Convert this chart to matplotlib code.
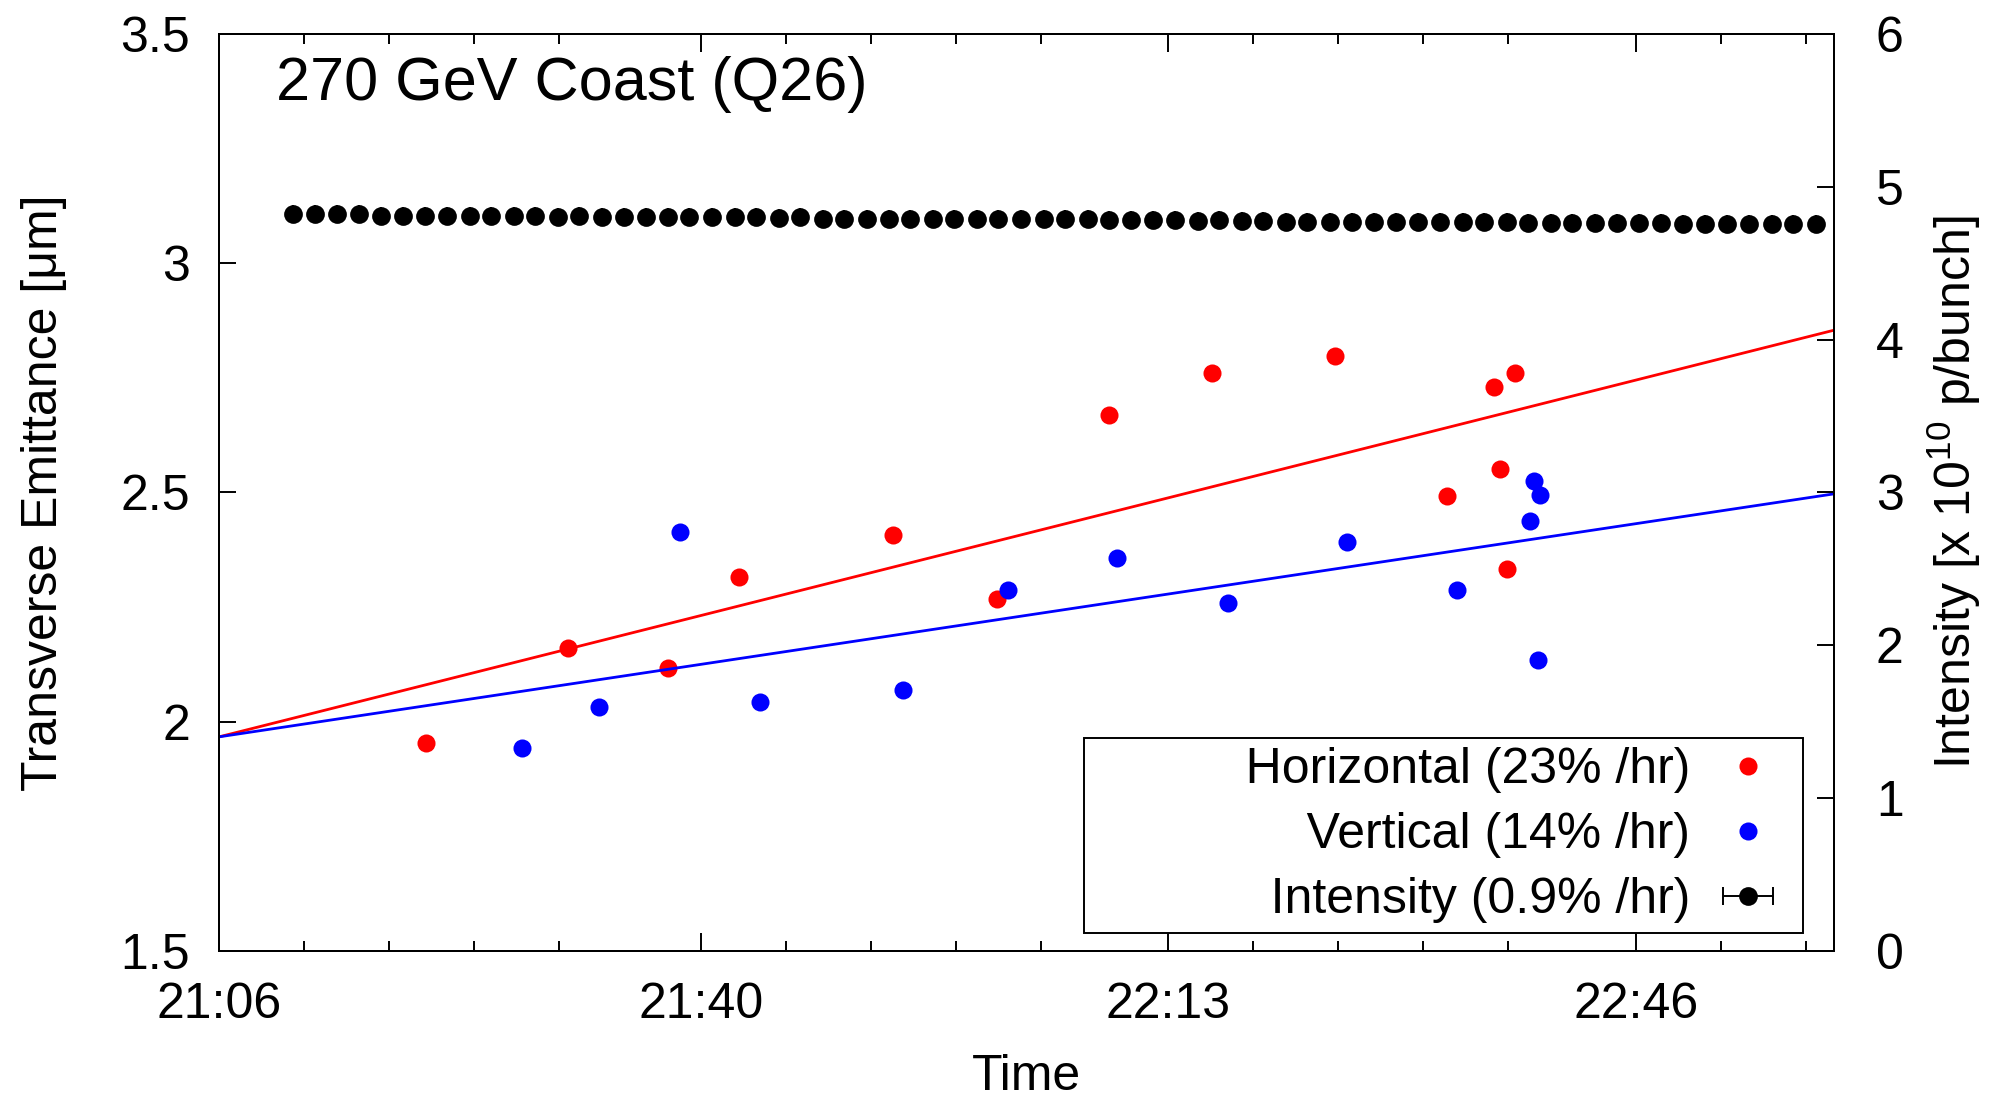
import matplotlib
matplotlib.use("Agg")
import matplotlib.pyplot as plt

# time axis in minutes after 21:06
x_ticks = [0, 34, 67, 100]
x_ticklabels = ["21:06", "21:40", "22:13", "22:46"]
x_minor = [6, 12, 18, 24, 40, 46, 52, 58, 73, 79, 85, 91, 106, 112]

# horizontal emittance (um)
h_t = [14.6, 24.6, 31.7, 36.7, 47.6, 54.9, 62.8, 70.1, 78.8, 86.7, 90.0, 90.4, 90.9, 91.5]
h_eps = [1.953, 2.161, 2.118, 2.316, 2.407, 2.268, 2.668, 2.760, 2.798, 2.493, 2.729, 2.551, 2.334, 2.760]

# vertical emittance (um)
v_t = [21.4, 26.8, 32.5, 38.2, 48.3, 55.7, 63.4, 71.2, 79.6, 87.4, 92.5, 92.8, 93.2, 93.1]
v_eps = [1.943, 2.033, 2.414, 2.043, 2.070, 2.288, 2.357, 2.258, 2.392, 2.288, 2.437, 2.526, 2.495, 2.134]

# growth fits, ends of the window
fit_t = [0, 114]
h_fit = [1.967, 2.854]
v_fit = [1.967, 2.497]

# beam intensity (1e10 p/bunch)
int_t = [5.2, 6.8, 8.3, 9.9, 11.4, 13.0, 14.5, 16.1, 17.7, 19.2,
         20.8, 22.3, 23.9, 25.4, 27.0, 28.6, 30.1, 31.7, 33.2, 34.8,
         36.4, 37.9, 39.5, 41.0, 42.6, 44.1, 45.7, 47.3, 48.8, 50.4,
         51.9, 53.5, 55.0, 56.6, 58.2, 59.7, 61.3, 62.8, 64.4, 65.9,
         67.5, 69.1, 70.6, 72.2, 73.7, 75.3, 76.8, 78.4, 80.0, 81.5,
         83.1, 84.6, 86.2, 87.8, 89.3, 90.9, 92.4, 94.0, 95.5, 97.1,
         98.7, 100.2, 101.8, 103.3, 104.9, 106.4, 108.0, 109.6, 111.1, 112.7]
int_val = [4.822, 4.820, 4.822, 4.820, 4.810, 4.810, 4.808, 4.810, 4.806, 4.808,
           4.806, 4.806, 4.805, 4.806, 4.803, 4.805, 4.803, 4.803, 4.800, 4.802,
           4.800, 4.800, 4.798, 4.800, 4.792, 4.790, 4.792, 4.790, 4.790, 4.788,
           4.790, 4.788, 4.788, 4.786, 4.788, 4.786, 4.786, 4.780, 4.782, 4.780,
           4.780, 4.778, 4.780, 4.778, 4.778, 4.772, 4.772, 4.770, 4.772, 4.770,
           4.770, 4.768, 4.770, 4.768, 4.768, 4.768, 4.766, 4.766, 4.764, 4.766,
           4.764, 4.764, 4.762, 4.758, 4.758, 4.756, 4.756, 4.755, 4.754, 4.754]

legend_labels = ["Horizontal (23% /hr)", "Vertical (14% /hr)", "Intensity (0.9% /hr)"]

plt.rcParams["font.family"] = ["Liberation Sans", "DejaVu Sans"]
plt.rcParams["mathtext.default"] = "regular"
plt.rcParams["axes.linewidth"] = 1.4

fig = plt.figure(figsize=(19.9, 10.99), dpi=100)
ax = fig.add_axes([0.1101, 0.1347, 0.8116, 0.8344])
ax2 = ax.twinx()

h_pts, = ax.plot(h_t, h_eps, "o", color="red", ms=13, mec="none")
ax.plot(fit_t, h_fit, "-", color="red", lw=2)
v_pts, = ax.plot(v_t, v_eps, "o", color="blue", ms=13, mec="none")
ax.plot(fit_t, v_fit, "-", color="blue", lw=2)
i_pts = ax2.errorbar(int_t, int_val, xerr=0, fmt="o", color="black", ms=13.5,
                     mec="none", elinewidth=1.4, capsize=6.5, capthick=1.4)

ax.set_xlim(0, 114)
ax.set_ylim(1.5, 3.5)
ax2.set_ylim(0, 6)
ax.set_xticks(x_ticks)
ax.set_xticklabels(x_ticklabels)
ax.set_xticks(x_minor, minor=True)
ax.set_yticks([1.5, 2, 2.5, 3, 3.5])
ax.set_yticklabels(["1.5", "2", "2.5", "3", "3.5"])
ax2.set_yticks(range(7))

ax.tick_params(axis="x", which="major", direction="in", length=13, width=1.4,
               top=True, labelsize=36, pad=22.5)
ax.tick_params(axis="x", which="minor", direction="in", length=7, width=1.4, top=True)
ax.tick_params(axis="y", direction="in", length=12.5, width=1.4, right=False,
               labelsize=36, pad=21)
ax2.tick_params(axis="y", direction="in", length=12.5, width=1.4, labelsize=36, pad=30)

ax.set_xlabel("Time", fontsize=36)
ax.set_ylabel("Transverse Emittance [μm]", fontsize=36)
ax2.set_ylabel("Intensity [x 10$^{10}$ p/bunch]", fontsize=36)
ax.xaxis.set_label_coords(0.5, -0.112)
ax.yaxis.set_label_coords(-0.094, 0.5)
ax2.yaxis.set_label_coords(1.056, 0.5)

ax.text(0.035, 0.928, "270 GeV Coast (Q26)", transform=ax.transAxes,
        fontsize=44, va="baseline", ha="left")

# markerfirst=False right-aligns the rows; leading spaces widen the box
leg = ax2.legend([h_pts, v_pts, i_pts], [" " * 11 + s for s in legend_labels],
                 loc="lower right", bbox_to_anchor=(0.981, 0.0196), borderaxespad=0,
                 markerfirst=False, fontsize=36, fancybox=False, edgecolor="black",
                 framealpha=1, handlelength=1.82, handletextpad=0.25, borderpad=0.19,
                 labelspacing=0.38, numpoints=1)
leg.get_frame().set_linewidth(1.4)

fig.savefig("out.png", dpi=100)
